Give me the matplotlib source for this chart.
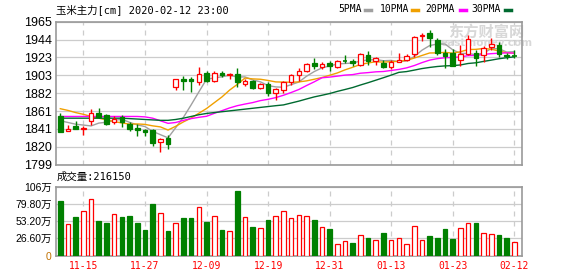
import numpy as np
import matplotlib
matplotlib.use("Agg")
from matplotlib import pyplot as plt
from matplotlib.lines import Line2D


dates = ["11-12", "11-13", "11-14", "11-15", "11-18", "11-19", "11-20", "11-21", "11-22", "11-25",
         "11-26", "11-27", "11-28", "11-29", "12-02", "12-03", "12-04", "12-05", "12-06", "12-09",
         "12-10", "12-11", "12-12", "12-13", "12-16", "12-17", "12-18", "12-19", "12-20", "12-23",
         "12-24", "12-25", "12-26", "12-27", "12-30", "12-31", "01-02", "01-03", "01-06", "01-07",
         "01-08", "01-09", "01-10", "01-13", "01-14", "01-15", "01-16", "01-17", "01-20", "01-21",
         "01-22", "01-23", "02-03", "02-04", "02-05", "02-06", "02-07", "02-10", "02-11", "02-12"]

opens = [1856, 1838.5, 1844, 1840, 1850, 1859, 1857, 1848, 1854, 1846,
         1842, 1839, 1839, 1825, 1830, 1889, 1899, 1898.5, 1895, 1905,
         1896, 1905.5, 1903, 1904, 1893, 1896.5, 1888, 1893, 1882, 1886,
         1894.5, 1903, 1908, 1917, 1912.5, 1916.5, 1912.5, 1919, 1919.5, 1915,
         1926, 1919.5, 1917, 1912.5, 1918.5, 1921, 1927.5, 1948, 1951.5, 1944,
         1928.5, 1928.5, 1921, 1928, 1929, 1926, 1936, 1938, 1926.5, 1925]
highs = [1859, 1845, 1850, 1844, 1864, 1865, 1858, 1855, 1857, 1849,
         1846, 1840.5, 1841, 1830, 1833, 1899, 1901.5, 1900.5, 1912, 1908,
         1908, 1908, 1905.5, 1911, 1899, 1897.5, 1894, 1895, 1888, 1896,
         1904, 1911, 1917, 1923, 1918, 1919, 1920.5, 1926, 1921.5, 1928.5,
         1931, 1924.5, 1920.5, 1920.5, 1929, 1928, 1948, 1951.5, 1955, 1945.5,
         1933, 1933, 1938, 1950, 1932, 1937, 1945.5, 1941, 1929, 1932]
lows = [1837.5, 1838, 1841, 1833, 1845, 1853, 1845, 1846, 1843, 1838,
        1832, 1832.5, 1821, 1813.5, 1817, 1886, 1886, 1883, 1892, 1895,
        1895, 1901, 1898, 1889, 1890, 1887, 1886.5, 1879, 1874.5, 1882.5,
        1892, 1896.5, 1907, 1910, 1910.5, 1908, 1911, 1916.5, 1914, 1914,
        1914.5, 1914.7, 1911, 1910, 1918, 1919.5, 1924.5, 1943, 1936, 1926,
        1911, 1913, 1914, 1926, 1913, 1918.5, 1932, 1924.5, 1921.5, 1922.5]
closes = [1837.5, 1841, 1841, 1841.5, 1859, 1854, 1846, 1852, 1848, 1841,
          1839, 1836.5, 1824, 1829, 1822.5, 1898, 1896.5, 1896, 1904.5, 1896,
          1905.5, 1903.5, 1904.5, 1894.5, 1896.5, 1888, 1892.5, 1882.5, 1887, 1894.5,
          1903, 1908, 1916, 1914, 1916, 1914, 1919.5, 1919, 1916.5, 1928,
          1919.5, 1922.5, 1912, 1918.5, 1920, 1925, 1947, 1949, 1945.5, 1929,
          1925, 1913.5, 1928, 1944.5, 1922.5, 1934.5, 1939, 1928, 1925.5, 1925]

# volume in 万
volumes = [84, 49, 60, 69, 87, 54, 49.5, 64, 60, 61,
           50.5, 40, 80, 65, 38, 50.5, 58, 58, 75, 52,
           61, 40, 38, 99.5, 60, 44, 43, 55, 61, 69,
           57.5, 63, 61, 55, 44, 41, 18, 22, 20, 32,
           27.5, 24.5, 35, 24.5, 27, 18, 45, 24.5, 30.5, 27.5,
           41, 26, 43, 50.5, 50.5, 35, 33.5, 32, 27.5, 21.6]

ma5 = [1850, 1848, 1846, 1845, 1844, 1847.3, 1848.3, 1850.5, 1851.8, 1848.2,
       1845.2, 1843.3, 1837.7, 1833.9, 1830.2, 1842, 1854, 1868.4, 1883.4, 1898.2,
       1899.7, 1901.1, 1902.8, 1900.8, 1900.9, 1897.4, 1895.2, 1890.8, 1889.3, 1888.9,
       1891.9, 1895, 1901.7, 1907.1, 1911.4, 1913.6, 1915.9, 1916.5, 1917, 1919.4,
       1920.5, 1921.1, 1919.7, 1920.1, 1918.5, 1919.6, 1924.5, 1931.9, 1937.3, 1939.1,
       1939.1, 1932.4, 1928.2, 1928, 1926.7, 1928.6, 1933.7, 1933.7, 1929.8, 1930.2]
ma10 = [1864, 1862, 1859.5, 1857.5, 1855, 1853, 1851, 1849, 1847.5, 1846.1,
        1846.3, 1845.8, 1844.1, 1842.9, 1839.2, 1843.6, 1848.7, 1853.1, 1858.7, 1864.2,
        1870.9, 1877.6, 1885.6, 1892.2, 1899.6, 1898.6, 1898.2, 1896.8, 1895.1, 1894.9,
        1894.7, 1895.1, 1896.3, 1898.2, 1900.2, 1902.8, 1905.5, 1909.1, 1912.1, 1915.4,
        1917.1, 1918.5, 1918.1, 1918.6, 1919, 1920.1, 1922.8, 1925.8, 1928.7, 1928.8,
        1929.4, 1928.5, 1930.1, 1932.7, 1932.9, 1933.9, 1933.1, 1931, 1928.9, 1928.5]
ma20 = [1855, 1855, 1855, 1855, 1855, 1855, 1855, 1855, 1855, 1855,
        1855, 1854.5, 1853, 1850, 1847, 1848, 1850.5, 1852.5, 1854, 1855.2,
        1858.6, 1861.7, 1864.9, 1867.5, 1869.4, 1871.1, 1873.4, 1874.9, 1876.9, 1879.6,
        1882.8, 1886.3, 1890.9, 1895.2, 1899.9, 1900.7, 1901.8, 1903, 1903.6, 1905.2,
        1905.9, 1906.8, 1907.2, 1908.4, 1909.6, 1911.4, 1914.1, 1917.5, 1920.4, 1922.1,
        1923.2, 1923.5, 1924.1, 1925.6, 1925.9, 1927, 1927.9, 1928.4, 1928.8, 1928.6]
ma30 = [1853, 1853, 1853, 1853, 1853, 1853, 1853, 1853, 1853, 1852.5,
        1852, 1851.5, 1851, 1850.5, 1850.5, 1851.5, 1853, 1855, 1857, 1858.5,
        1859.5, 1860.5, 1861.5, 1862.5, 1863.5, 1864.5, 1865.5, 1866.5, 1867.5, 1868.4,
        1870.6, 1872.8, 1875.3, 1877.7, 1879.6, 1881.6, 1884.1, 1886.3, 1888.6, 1891.5,
        1894.2, 1897.1, 1900, 1903, 1906.2, 1907.1, 1908.8, 1910.6, 1911.9, 1913,
        1913.7, 1914, 1914.8, 1916.5, 1917.3, 1918.9, 1920.4, 1922, 1923.2, 1924.2]

price_ticks = [1799, 1819.75, 1840.5, 1861.25, 1882, 1902.75, 1923.5, 1944.25, 1965]
price_labels = ["1799", "1820", "1841", "1861", "1882", "1903", "1923", "1944", "1965"]
vol_ticks = [0, 26.6, 53.2, 79.8, 106.4]
vol_labels = ["0", "26.60万", "53.20万", "79.80万", "106万"]
date_ticks = ["11-15", "11-27", "12-09", "12-19", "12-31", "01-13", "01-23", "02-12"]

RED = "#ff0000"
GREEN = "#008000"
MA_COLORS = {"5PMA": "#a0a0a0", "10PMA": "#f0a000", "20PMA": "#ff00ff", "30PMA": "#006a30"}
MONO_CJK = ["DejaVu Sans Mono", "Noto Sans CJK SC"]

x = np.arange(len(dates))
w = 0.6

fig = plt.figure(figsize=(5.78, 2.76), dpi=100)
ax = fig.add_axes([56 / 578, 1 - 164.7 / 276, 466 / 578, 143 / 276])
axv = fig.add_axes([56 / 578, 1 - 255.5 / 276, 466 / 578, 68.8 / 276])

tick_pos = [dates.index(d) for d in date_ticks]

for a in (ax, axv):
    a.set_xlim(-0.56, 60.0)
    for s in a.spines.values():
        s.set_color("#999999")
        s.set_linewidth(1.2)
    a.tick_params(length=0)
    for p in tick_pos:
        a.axvline(p, color="#cccccc", lw=0.9, ls=(0, (4, 4)), zorder=0)
    a.set_xticks(tick_pos)

ax.set_ylim(1799, 1965)
ax.set_yticks(price_ticks)
ax.set_yticklabels(price_labels, fontsize=9, family="Liberation Sans")
ax.set_xticklabels([])
for t in price_ticks:
    ax.axhline(t, color="#cccccc", lw=0.9, zorder=0)

axv.set_ylim(0, 106.4)
axv.set_yticks(vol_ticks)
axv.set_yticklabels(vol_labels, fontsize=7.5, family=["Liberation Sans", "Noto Sans CJK SC"])
axv.get_yticklabels()[0].set_color("#c07000")
for t in vol_ticks:
    axv.axhline(t, color="#cccccc", lw=0.9, zorder=0)
axv.set_xticklabels(date_ticks, fontsize=7, family="DejaVu Sans Mono", color=RED)
axv.tick_params(axis="x", pad=4)
axv.tick_params(axis="y", pad=3)
ax.tick_params(axis="y", pad=3)

# watermark
ax.text(0.923, 0.93, "东方财富网", transform=ax.transAxes, ha="center", va="center",
        fontsize=11, family="Noto Sans CJK SC", color="#d8d8d8", fontweight="bold", zorder=0.5)
ax.text(0.925, 0.85, "eastmoney.com", transform=ax.transAxes, ha="center", va="center",
        fontsize=7.5, family="DejaVu Sans", color="#d8d8d8", fontweight="bold", zorder=0.5)

# moving averages
for name, vals in zip(MA_COLORS, (ma5, ma10, ma20, ma30)):
    ax.plot(x, vals, color=MA_COLORS[name], lw=1, zorder=2)

# candles
up_flags = []
for i in x:
    o, h, l, c = opens[i], highs[i], lows[i], closes[i]
    prev = closes[i - 1] if i > 0 else c
    up = c > o or (c == o and c >= prev)
    up_flags.append(c >= o)
    col = RED if up else GREEN
    top, bot = max(o, c), min(o, c)
    if c == o:
        ax.vlines(i, l, h, color=col, lw=1, zorder=3)
        ax.hlines(c, i - w / 2, i + w / 2, color=col, lw=1.2, zorder=3)
    elif up:
        ax.vlines(i, top, h, color=col, lw=1, zorder=3)
        ax.vlines(i, l, bot, color=col, lw=1, zorder=3)
        ax.bar(i, top - bot, bottom=bot, width=w, facecolor="white", edgecolor=col, lw=0.9, zorder=4)
    else:
        ax.vlines(i, l, h, color=col, lw=1, zorder=3)
        ax.bar(i, top - bot, bottom=bot, width=w, facecolor=col, edgecolor=col, lw=0.9, zorder=4)

# volume bars
for i in x:
    if up_flags[i]:
        axv.bar(i, volumes[i], width=w, facecolor="white", edgecolor=RED, lw=0.9, zorder=3)
    else:
        axv.bar(i, volumes[i], width=w, facecolor=GREEN, edgecolor=GREEN, lw=0.9, zorder=3)

# header texts
fig.text(56 / 578, 1 - 9.5 / 276, "玉米主力[cm] 2020-02-12 23:00", ha="left", va="center",
         fontsize=7.5, family=MONO_CJK)
fig.text(57 / 578, 1 - 177 / 276, "成交量:216150", ha="left", va="center",
         fontsize=7.5, family=MONO_CJK)

legend_items = [("5PMA", 338, 365), ("10PMA", 380, 412), ("20PMA", 425, 460), ("30PMA", 471, 505)]
for name, tx, lx in legend_items:
    fig.text(tx / 578, 1 - 9.5 / 276, name, ha="left", va="center", fontsize=7, family="DejaVu Sans Mono")
    fig.add_artist(Line2D([lx / 578, (lx + 6) / 578], [1 - 10 / 276, 1 - 10 / 276],
                          color=MA_COLORS[name], lw=2.5, transform=fig.transFigure))

fig.savefig("out.png", dpi=100)
